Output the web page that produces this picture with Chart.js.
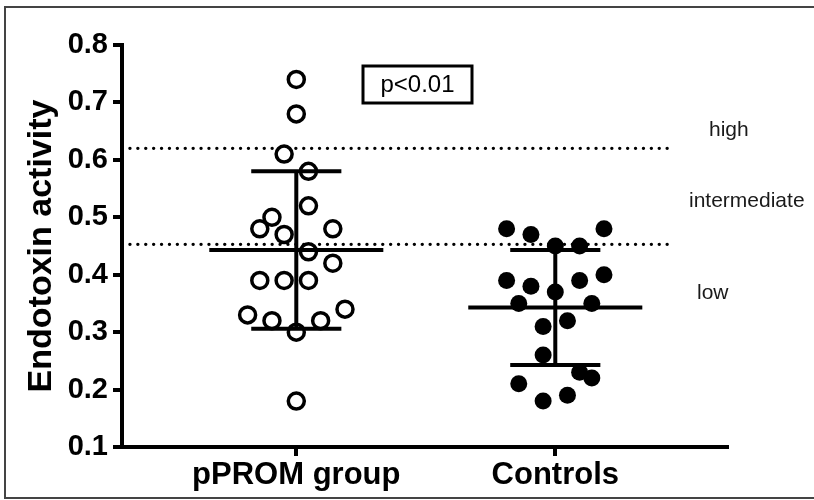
<!DOCTYPE html>
<html>
<head>
<meta charset="utf-8">
<script src="https://cdn.jsdelivr.net/npm/chart.js@4.4.0/dist/chart.umd.min.js"></script>
<style>
  html, body { margin: 0; padding: 0; background: #fff; }
  #wrap { width: 814px; height: 500px; }
</style>
</head>
<body>
<div id="wrap"><canvas id="endo-chart"></canvas></div>
<script>
// groups on the x axis
var groups = ["pPROM group", "Controls"];

// endotoxin activity per patient, with a column slot for the scatter spread
var pprom = [0.74, 0.68, 0.61, 0.58, 0.52, 0.50, 0.48, 0.48, 0.47, 0.44, 0.42, 0.39, 0.39, 0.39, 0.34, 0.33, 0.32, 0.32, 0.30, 0.18];
var ppromCol = [0, 0, -1, 1, 1, -2, -3, 3, -1, 1, 3, -3, -1, 1, 4, -4, -2, 2, 0, 0];
var controls = [0.48, 0.47, 0.48, 0.45, 0.45, 0.39, 0.38, 0.39, 0.40, 0.37, 0.35, 0.35, 0.32, 0.31, 0.26, 0.23, 0.22, 0.21, 0.19, 0.18];
var controlsCol = [-4, -2, 4, 0, 2, -4, -2, 2, 4, 0, -3, 3, 1, -1, -1, 2, 3, -3, 1, -1];

// mean and mean +/- SD for each group
var means = [0.443, 0.343];
var sdHigh = [0.580, 0.443];
var sdLow = [0.306, 0.243];

// cut-offs for the activity classes
var cutoffs = [0.62, 0.453];
var classLabels = ["high", "intermediate", "low"];
var classValues = [0.652, 0.528, 0.367];

var yTicks = [0.1, 0.2, 0.3, 0.4, 0.5, 0.6, 0.7, 0.8];

var xMin = 0.327, xMax = 2.663;
var colStep = 0.047;   // horizontal step between neighbouring dots
var meanHalf = 0.336;  // half width of the mean bar
var capHalf = 0.174;   // half width of the SD caps

var fontFam = "'Liberation Sans', Arial, sans-serif";

function spread(vals, cols, pos) {
  return vals.map(function (v, i) { return { x: pos + cols[i] * colStep, y: v }; });
}

// mean bar, SD whisker and caps as one broken line
var summary = [];
for (var g = 0; g < groups.length; g++) {
  var c = g + 1;
  summary.push({ x: c - meanHalf, y: means[g] }, { x: c + meanHalf, y: means[g] }, { x: c, y: null });
  summary.push({ x: c, y: sdLow[g] }, { x: c, y: sdHigh[g] }, { x: c, y: null });
  summary.push({ x: c - capHalf, y: sdHigh[g] }, { x: c + capHalf, y: sdHigh[g] }, { x: c, y: null });
  summary.push({ x: c - capHalf, y: sdLow[g] }, { x: c + capHalf, y: sdLow[g] }, { x: c, y: null });
}

var cutoffSets = cutoffs.map(function (v) {
  return {
    type: "line",
    data: [{ x: xMin, y: v }, { x: 2.458, y: v }],
    borderColor: "#000",
    borderWidth: 3.3,
    borderDash: [0.1, 7.8],
    borderCapStyle: "round",
    pointRadius: 0,
    order: 5
  };
});

// frame, class labels and the p-value box
var extras = {
  id: "extras",
  afterDraw: function (chart) {
    var ctx = chart.ctx;
    var y = chart.scales.y;
    ctx.save();
    ctx.strokeStyle = "#444";
    ctx.lineWidth = 2;
    ctx.beginPath();
    ctx.moveTo(814, 7); ctx.lineTo(5, 7); ctx.lineTo(5, 498); ctx.lineTo(814, 498);
    ctx.stroke();

    ctx.fillStyle = "#1a1a1a";
    ctx.font = "21px " + fontFam;
    ctx.textBaseline = "middle";
    ctx.textAlign = "left";
    ctx.fillText(classLabels[0], 709, y.getPixelForValue(classValues[0]));
    ctx.fillText(classLabels[1], 689, y.getPixelForValue(classValues[1]));
    ctx.fillText(classLabels[2], 697, y.getPixelForValue(classValues[2]));

    ctx.strokeStyle = "#000";
    ctx.lineWidth = 3;
    ctx.strokeRect(363, 66, 109, 37);
    ctx.fillStyle = "#000";
    ctx.font = "24px " + fontFam;
    ctx.textAlign = "center";
    ctx.fillText("p<0.01", 417.5, 85);
    ctx.restore();
  }
};

var ctx = document.getElementById("endo-chart").getContext("2d");
var chart = new Chart(ctx, {
  type: "scatter",
  data: {
    datasets: [
      {
        type: "line",
        data: summary,
        borderColor: "#000",
        borderWidth: 4,
        pointRadius: 0,
        spanGaps: false,
        order: 1
      },
      {
        label: groups[0],
        data: spread(pprom, ppromCol, 1),
        pointStyle: "circle",
        pointRadius: 8,
        pointBorderWidth: 3.5,
        pointBackgroundColor: "#fff",
        pointBorderColor: "#000",
        order: 3
      },
      {
        label: groups[1],
        data: spread(controls, controlsCol, 2),
        pointStyle: "circle",
        pointRadius: 8.5,
        pointBorderWidth: 0,
        pointBackgroundColor: "#000",
        pointBorderColor: "#000",
        order: 2
      }
    ].concat(cutoffSets)
  },
  options: {
    responsive: true,
    maintainAspectRatio: false,
    animation: false,
    events: [],
    layout: { padding: { left: 0, top: 45, right: 87, bottom: 0 } },
    plugins: { legend: { display: false }, tooltip: { enabled: false } },
    scales: {
      x: {
        type: "linear",
        min: xMin,
        max: xMax,
        afterBuildTicks: function (scale) {
          scale.ticks = groups.map(function (g, i) { return { value: i + 1 }; });
        },
        afterFit: function (scale) { scale.height = 53; },
        ticks: {
          autoSkip: false,
          maxRotation: 0,
          padding: 1,
          color: "#000",
          font: { family: fontFam, size: 31, weight: "bold" },
          callback: function (v) { return groups[Math.round(v) - 1]; }
        },
        grid: { drawOnChartArea: false, drawTicks: true, tickLength: 9, lineWidth: 4, color: "#000" },
        border: { display: true, width: 4, color: "#000" }
      },
      y: {
        min: 0.1,
        max: 0.8,
        afterBuildTicks: function (scale) {
          scale.ticks = yTicks.map(function (v) { return { value: v }; });
        },
        afterFit: function (scale) { scale.width = 122; },
        ticks: {
          padding: 5,
          color: "#000",
          font: { family: fontFam, size: 29, weight: "bold" },
          callback: function (v) { return v.toFixed(1); }
        },
        grid: { drawOnChartArea: false, drawTicks: true, tickLength: 9, lineWidth: 4, color: "#000" },
        border: { display: true, width: 4, color: "#000" },
        title: {
          display: true,
          text: "Endotoxin activity",
          color: "#000",
          padding: { top: 21, bottom: 0 },
          font: { family: fontFam, size: 34, weight: "bold" }
        }
      }
    }
  },
  plugins: [extras]
});
</script>
</body>
</html>
